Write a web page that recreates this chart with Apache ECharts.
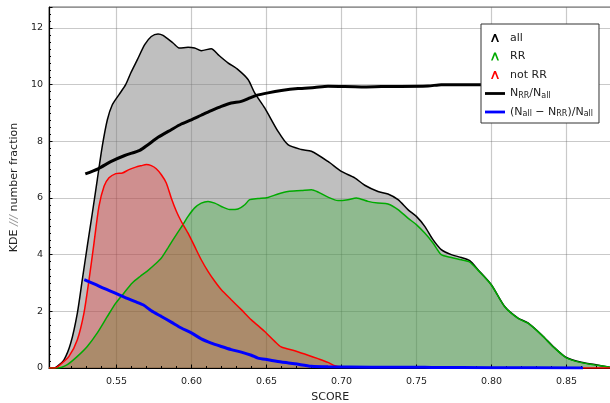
<!DOCTYPE html>
<html><head><meta charset="utf-8">
<script src="https://cdn.jsdelivr.net/npm/echarts@6/dist/echarts.min.js"></script>
<style>html,body{margin:0;padding:0;background:#fff}#c{width:610px;height:403px}</style>
</head><body><div id="c"></div>
<script>
// ---- data ----
const allX = [0.505,0.508,0.5105,0.515,0.5195,0.5239,0.5272,0.5305,0.5339,0.5372,0.5405,0.5439,0.5472,0.5517,0.5561,0.5595,0.5639,0.5688,0.5732,0.5777,0.581,0.5877,0.5921,0.5977,0.6021,0.6065,0.6132,0.6177,0.6243,0.631,0.6377,0.6421,0.6488,0.6577,0.6643,0.6732,0.6799,0.691,0.6999,0.7088,0.7155,0.7243,0.731,0.7377,0.7443,0.7499,0.7555,0.761,0.7665,0.7732,0.7799,0.7855,0.791,0.7999,0.8088,0.8177,0.8243,0.8332,0.8421,0.8499,0.8599,0.8688,0.88];
const allY = [0,0,0.06,0.29,0.88,1.94,3.12,4.29,5.47,6.65,7.82,8.76,9.29,9.65,10.0,10.41,10.88,11.41,11.7,11.79,11.74,11.47,11.29,11.32,11.29,11.2,11.27,11.06,10.77,10.53,10.18,9.71,9.18,8.35,7.88,7.71,7.65,7.29,6.94,6.71,6.45,6.23,6.14,5.94,5.59,5.35,5.0,4.53,4.18,4.0,3.9,3.79,3.47,2.94,2.17,1.76,1.59,1.18,0.71,0.37,0.2,0.12,0.02];

const rrX = [0.505,0.5105,0.5172,0.5239,0.5305,0.5372,0.5439,0.5495,0.555,0.5605,0.5657,0.5705,0.5755,0.5799,0.5843,0.5899,0.5943,0.5977,0.6021,0.6065,0.611,0.6155,0.6199,0.6255,0.631,0.6355,0.6388,0.6443,0.651,0.6577,0.6643,0.6732,0.6799,0.6843,0.691,0.6977,0.7043,0.7099,0.7177,0.7243,0.731,0.7377,0.7443,0.7499,0.7555,0.761,0.7665,0.7732,0.7799,0.7855,0.791,0.7999,0.8088,0.8177,0.8243,0.8332,0.8421,0.8499,0.8599,0.8688,0.88];
const rrY = [0,0,0.12,0.41,0.76,1.24,1.82,2.29,2.65,3.0,3.23,3.42,3.65,3.88,4.24,4.71,5.06,5.35,5.65,5.82,5.88,5.82,5.7,5.59,5.61,5.76,5.94,5.98,6.02,6.14,6.23,6.26,6.29,6.21,6.03,5.91,5.94,6.0,5.88,5.82,5.79,5.59,5.29,5.06,4.76,4.41,4.0,3.9,3.82,3.74,3.45,2.93,2.16,1.75,1.58,1.17,0.7,0.36,0.19,0.11,0.02];

const notX = [0.505,0.509,0.5125,0.5183,0.5239,0.5283,0.5317,0.535,0.5383,0.5417,0.545,0.5495,0.5539,0.5583,0.5628,0.5665,0.5699,0.5732,0.5765,0.5799,0.5832,0.5865,0.5899,0.5932,0.5977,0.6021,0.6065,0.611,0.6155,0.6199,0.6265,0.6332,0.6399,0.6488,0.6555,0.6599,0.6688,0.6777,0.6843,0.691,0.6955,0.70,0.72,0.75,0.77,0.78,0.88];
const notY = [0,0,0.12,0.41,1.0,1.94,3.12,4.41,5.7,6.41,6.71,6.86,6.88,7.0,7.09,7.14,7.18,7.14,7.03,6.82,6.53,6.0,5.53,5.17,4.76,4.29,3.82,3.41,3.06,2.76,2.41,2.06,1.7,1.29,0.94,0.74,0.61,0.45,0.33,0.2,0.08,0.04,0.03,0.03,0.02,0,0];

const ratioX = [0.5292,0.5377,0.5465,0.5555,0.5655,0.571,0.5777,0.5865,0.5932,0.5999,0.6065,0.6132,0.6199,0.6265,0.6332,0.6388,0.6432,0.651,0.6599,0.671,0.6821,0.691,0.7132,0.7265,0.7577,0.7665,0.7921,0.86];
const ratioY = [6.85,7.03,7.29,7.5,7.68,7.88,8.14,8.41,8.61,8.76,8.92,9.08,9.23,9.35,9.41,9.53,9.62,9.71,9.79,9.86,9.9,9.94,9.92,9.93,9.95,10.0,10.0,10.0];

const fracX = [0.5285,0.5355,0.5421,0.5488,0.5555,0.5621,0.5677,0.5732,0.5799,0.5865,0.5932,0.5999,0.6065,0.6132,0.6199,0.6265,0.6332,0.6399,0.6443,0.651,0.6599,0.6688,0.6799,0.691,0.72,0.75,0.76,0.80,0.861];
const fracY = [3.12,2.96,2.8,2.65,2.49,2.35,2.23,2.02,1.82,1.62,1.41,1.24,1.03,0.88,0.76,0.65,0.56,0.45,0.35,0.29,0.21,0.15,0.06,0.04,0.03,0.03,0.02,0.01,0.0];

const xTickLabels = ['0.55','0.60','0.65','0.70','0.75','0.80','0.85'];
const yTickLabels = ['0','2','4','6','8','10','12'];
const seriesNames = ['all','RR','not RR','ratio','frac'];
const legendLabels = {
  'all': 'all',
  'RR': 'RR',
  'not RR': 'not RR',
  'ratio': 'N{s|RR}/N{s|all}',
  'frac': '(N{s|all} \u2212 N{s|RR})/N{s|all}'
};

// ---- chart ----
const FONT = 'DejaVu Sans';
const TXT = '#222';
const pairs = (xs, ys) => xs.map((x, i) => [x, ys[i]]);
const caret = 'path://M0,8 L3.1,0 L4.9,0 L8,8 L6.3,8 L4,2.2 L1.7,8 Z';
const bar = 'path://M0,0 L20,0 L20,2.8 L0,2.8 Z';
const gridLine = {show: true, lineStyle: {color: 'rgba(90,90,90,0.33)', width: 1.2}};

const chart = echarts.init(document.getElementById('c'), null, {renderer: 'canvas'});
chart.setOption({
  backgroundColor: '#fff',
  animation: false,
  grid: {left: 49, right: -1.5, top: 7, bottom: 35, show: true, borderColor: '#666', borderWidth: 1,
         containLabel: false, outerBoundsMode: 'none'},
  xAxis: {
    type: 'value', min: 0.505, max: 0.88, splitNumber: 7, minInterval: 0.05, maxInterval: 0.05, z: 3,
    name: 'SCORE', nameLocation: 'middle', nameGap: 23,
    nameTextStyle: {fontFamily: FONT, fontSize: 11, color: TXT},
    axisLine: {show: true, onZero: false, lineStyle: {color: '#000', width: 1.2}},
    axisTick: {show: true, inside: true, length: 3.5, lineStyle: {color: '#000'}},
    minorTick: {show: true, splitNumber: 5, length: 2, lineStyle: {color: '#000'}},
    axisLabel: {fontFamily: FONT, fontSize: 9.5, color: TXT, margin: 9, showMinLabel: false, showMaxLabel: false,
      formatter: v => { const s = v.toFixed(2); return (xTickLabels.indexOf(s) >= 0 && Math.abs(v - parseFloat(s)) < 1e-6) ? s : ''; }},
    splitLine: gridLine
  },
  yAxis: {
    type: 'value', min: 0, max: 12.74, interval: 2, z: 3,
    name: 'KDE {g|///} number fraction', nameLocation: 'middle', nameGap: 26,
    nameTextStyle: {fontFamily: FONT, fontSize: 11, color: TXT,
      rich: {g: {fontFamily: FONT, fontSize: 11, color: '#999', fontStyle: 'italic'}}},
    axisLine: {show: true, lineStyle: {color: '#000', width: 1.2}},
    axisTick: {show: true, inside: true, length: 3.5, lineStyle: {color: '#000'}},
    minorTick: {show: true, splitNumber: 8, length: 2, lineStyle: {color: '#000'}},
    axisLabel: {fontFamily: FONT, fontSize: 9.5, color: TXT, margin: 6, showMaxLabel: false,
      formatter: v => yTickLabels.indexOf(String(v)) >= 0 ? String(v) : ''},
    splitLine: gridLine
  },
  legend: {
    orient: 'vertical', left: 481, top: 24, padding: [8, 6, 5, 4], itemGap: 6.5,
    itemWidth: 20, itemHeight: 8, symbolKeepAspect: true,
    backgroundColor: '#fff', borderColor: '#333', borderWidth: 1, borderRadius: 0,
    selectedMode: false,
    textStyle: {fontFamily: FONT, fontSize: 11, color: TXT, lineHeight: 12,
      rich: {s: {fontFamily: FONT, fontSize: 8, color: TXT, verticalAlign: 'bottom', lineHeight: 6}}},
    formatter: n => legendLabels[n],
    data: [
      {name: seriesNames[0], icon: caret, itemStyle: {color: '#000', borderWidth: 0}},
      {name: seriesNames[1], icon: caret, itemStyle: {color: '#00aa00', borderWidth: 0}},
      {name: seriesNames[2], icon: caret, itemStyle: {color: '#ff0000', borderWidth: 0}},
      {name: seriesNames[3], icon: bar, itemStyle: {color: '#000', borderWidth: 0}},
      {name: seriesNames[4], icon: bar, itemStyle: {color: '#0000ff', borderWidth: 0}}
    ]
  },
  series: [
    {type: 'line', name: seriesNames[0], data: pairs(allX, allY), symbol: 'none', smooth: 0.25,
     itemStyle: {color: '#000'}, lineStyle: {color: '#000', width: 1.5},
     areaStyle: {color: 'rgba(128,128,128,0.5)', opacity: 1, origin: 'start'}},
    {type: 'line', name: seriesNames[1], data: pairs(rrX, rrY), symbol: 'none', smooth: 0.25,
     itemStyle: {color: '#00aa00'}, lineStyle: {color: '#00aa00', width: 1.5},
     areaStyle: {color: 'rgba(0,170,0,0.25)', opacity: 1, origin: 'start'}},
    {type: 'line', name: seriesNames[2], data: pairs(notX, notY), symbol: 'none', smooth: 0.25,
     itemStyle: {color: '#ff0000'}, lineStyle: {color: '#ff0000', width: 1.5},
     areaStyle: {color: 'rgba(255,0,0,0.25)', opacity: 1, origin: 'start'}},
    {type: 'line', name: seriesNames[3], data: pairs(ratioX, ratioY), symbol: 'none', smooth: 0.25,
     itemStyle: {color: '#000'}, lineStyle: {color: '#000', width: 3}},
    {type: 'line', name: seriesNames[4], data: pairs(fracX, fracY), symbol: 'none', smooth: 0.25,
     itemStyle: {color: '#0000ff'}, lineStyle: {color: '#0000ff', width: 3}}
  ]
});
</script></body></html>
